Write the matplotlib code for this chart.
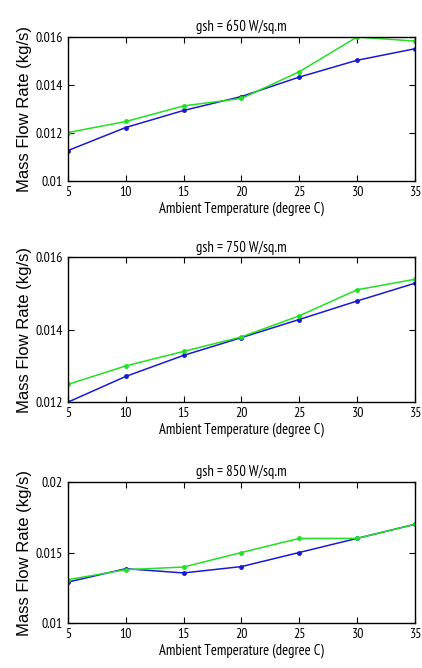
import matplotlib
matplotlib.use('Agg')
import matplotlib.pyplot as plt

temp = [5, 10, 15, 20, 25, 30, 35]

titulos = ['gsh = 650 W/sq.m', 'gsh = 750 W/sq.m', 'gsh = 850 W/sq.m']

azul_650 = [0.01127, 0.01223, 0.01294, 0.01352, 0.01433, 0.01503, 0.01551]
verde_650 = [0.01202, 0.01248, 0.01313, 0.01344, 0.01455, 0.01600, 0.01583]

azul_750 = [0.01200, 0.01271, 0.01329, 0.01378, 0.01428, 0.01479, 0.01528]
verde_750 = [0.01249, 0.01300, 0.01340, 0.01380, 0.01438, 0.01510, 0.01539]

azul_850 = [0.01290, 0.01385, 0.01355, 0.01400, 0.01500, 0.01600, 0.01700]
verde_850 = [0.01307, 0.01378, 0.01397, 0.01500, 0.01600, 0.01600, 0.01700]

ylims = [(0.01, 0.016), (0.012, 0.016), (0.01, 0.02)]
yticks = [[0.01, 0.012, 0.014, 0.016], [0.012, 0.014, 0.016], [0.01, 0.015, 0.02]]
yticklabels = [['0.01', '0.012', '0.014', '0.016'], ['0.012', '0.014', '0.016'], ['0.01', '0.015', '0.02']]

posiciones = [
    [0.161, 0.729, 0.822, 0.2156],
    [0.161, 0.398, 0.822, 0.217],
    [0.161, 0.0674, 0.822, 0.211],
]

# fuente estrecha tipo Arial Narrow; la primera instalada de la lista se usa
plt.rcParams['font.family'] = ['Arial Narrow', 'Liberation Sans Narrow', 'PT Sans Narrow',
                               'Archivo Narrow', 'Roboto Condensed', 'Pragati Narrow', 'DejaVu Sans']

fig = plt.figure(figsize=(4.22, 6.68), dpi=100)

datos = [(azul_650, verde_650), (azul_750, verde_750), (azul_850, verde_850)]

for i, (azul, verde) in enumerate(datos):
    ax = fig.add_axes(posiciones[i])
    ax.plot(temp, azul, color='#1a1ad0', marker='.', markersize=5, linewidth=1.1)
    ax.plot(temp, verde, color='#22e022', marker='.', markersize=5, linewidth=1.1)
    ax.set_xlim(5, 35)
    ax.set_ylim(*ylims[i])
    ax.set_xticks(temp)
    ax.set_yticks(yticks[i])
    ax.set_yticklabels(yticklabels[i])
    ax.tick_params(direction='in', top=True, right=True, labelsize=10, length=4)
    ax.set_title(titulos[i], fontsize=10.5, pad=4)
    ax.set_xlabel('Ambient Temperature (degree C)', fontsize=10.5, labelpad=2)
    ax.set_ylabel('Mass Flow Rate (kg/s)', fontsize=12, family=['Liberation Sans', 'DejaVu Sans'])
    ax.yaxis.set_label_coords(-0.104, 0.5)
    for s in ax.spines.values():
        s.set_linewidth(1.0)

fig.savefig('out.png', dpi=100)
